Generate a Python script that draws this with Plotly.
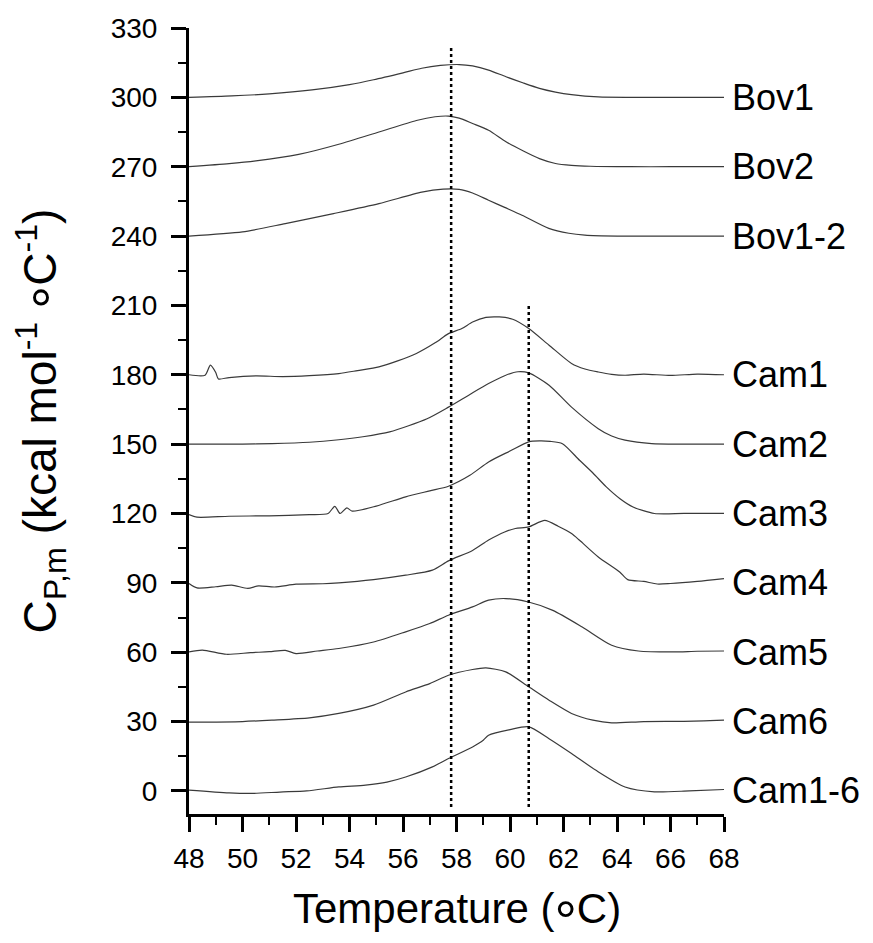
import plotly.graph_objects as go

# ---- data ----
bov1_T = [48, 49.6, 51, 52.6, 54, 54.9, 56, 56.7, 57.4, 58.1, 58.6, 59.2, 59.85, 60.5, 61.1, 61.7, 62.3, 63.3, 64.5, 66, 68]
bov1_v = [300, 300.6, 301.5, 303.2, 305.5, 307.6, 310.6, 312.6, 313.8, 314.2, 313.6, 311.8, 308.9, 306.2, 303.9, 302.3, 301.2, 300.2, 300, 300, 300]

bov2_T = [48, 49.5, 50.5, 52.1, 53.6, 55.1, 56.5, 57.2, 57.7, 58.1, 58.6, 59.2, 59.85, 60.5, 61.1, 61.7, 62.3, 63, 64.5, 66, 68]
bov2_v = [270, 271.3, 272.5, 275.3, 279.7, 285, 290, 291.6, 291.9, 291, 288.7, 285.8, 280.8, 276.8, 273.5, 271.4, 270.6, 270.2, 270, 270, 270]

bov12_T = [48, 50, 51.6, 53.4, 55.1, 56.7, 57.5, 58.1, 58.6, 59.2, 59.8, 60.45, 61.45, 62.2, 62.8, 64, 66, 68]
bov12_v = [240, 241.8, 245.4, 249.7, 254, 259, 260.3, 260.2, 258.6, 255.5, 252.4, 249, 243.3, 241.2, 240.4, 240, 240, 240]

cam1_T = [48, 48.6, 48.8, 49.0, 49.1, 49.5, 50.5, 51.5, 52.5, 53.6, 54.3, 55.1, 55.8, 56.5, 57.2, 57.7, 58.2, 58.6, 59.1, 59.6,
          60.1, 60.7, 61.46, 62.3, 62.8, 63.3, 63.8, 64.3, 65, 66, 67, 68]
cam1_v = [180, 179.8, 184.2, 181, 178.2, 178.8, 179.5, 179.2, 179.6, 180.5, 181.8, 183.4, 186, 189.2, 193.8, 197.8, 200, 202.8, 204.8, 205,
          204, 200, 192.8, 184.9, 182.5, 181.2, 180.2, 179.8, 180.3, 179.7, 180.3, 180]

cam2_T = [48, 50, 51.1, 52.5, 53.6, 54.5, 55.5, 56.9, 57.7, 58.5, 59.2, 59.8, 60.3, 60.7, 61.46, 62.3, 63.3, 63.8, 64.3, 65.3, 66.5, 68]
cam2_v = [150, 150, 150.2, 150.8, 151.9, 153.2, 155.3, 161, 166, 171.5, 176.2, 179.6, 181.3, 180.8, 175.5, 166, 156.7, 153.5, 151.7, 150.2, 150, 150]

cam3_T = [48, 48.3, 49.5, 51, 52.5, 53.2, 53.45, 53.65, 53.9, 54.1, 55, 56.1, 57, 57.7, 58.5, 59.2, 60, 60.7, 61.1, 61.5,
          61.96, 62.6, 63.1, 63.6, 64.1, 64.6, 65.4, 66.5, 68]
cam3_v = [119.5, 118.4, 118.8, 119, 119.5, 120, 123.1, 120, 122.4, 121, 123.2, 127.2, 129.8, 131.8, 136.5, 142.3, 147, 151, 151.4, 151.2,
          150.2, 143, 137.5, 131.5, 126.5, 122.8, 120, 120, 120]

cam4_T = [48, 48.3, 49, 49.6, 50.2, 50.6, 51.2, 52, 53, 53.6, 54.9, 56.1, 57.1, 57.7, 58.6, 59.2, 59.8, 60.2, 60.7, 61.3,
          61.8, 62.3, 62.6, 63.3, 64.1, 64.4, 65, 65.5, 66, 67, 68]
cam4_v = [89.7, 87.8, 88.3, 89, 87.6, 88.7, 88.2, 89.4, 89.6, 90, 91.4, 93.3, 95.5, 99.5, 104, 108.5, 112, 113.5, 114.2, 117,
          114.5, 111.3, 108.4, 101.2, 94.7, 91.4, 90.6, 89.5, 89.7, 90.6, 91.8]

cam5_T = [48, 48.5, 49.4, 50.3, 51, 51.6, 52, 52.8, 53.6, 54.9, 56.1, 57, 57.7, 58.6, 59.2, 59.84, 60.69, 61.6, 62.7, 63.8, 64.8, 66.1, 67, 68]
cam5_v = [60.1, 60.9, 59.1, 59.8, 60.2, 60.8, 59.4, 60.5, 61.6, 64.4, 68.8, 72.4, 76, 79.6, 82.5, 83.2, 81.7, 78.1, 70.9, 63, 60.5, 60.1, 60.4, 60.5]

cam6_T = [48, 50, 51.1, 52.5, 53.6, 54.9, 56.1, 57, 57.7, 58.6, 59.1, 59.84, 60.7, 61.46, 62.3, 63.1, 63.8, 65, 66.5, 68]
cam6_v = [29.7, 30, 30.6, 31.6, 33.5, 37.1, 42.8, 46.4, 50, 52.5, 53.2, 51.5, 45, 39.2, 33.5, 30.6, 29.4, 30, 30.1, 30.6]

cam16_T = [48, 49.5, 50.4, 51.4, 52.4, 53.6, 54.6, 55.4, 56.1, 57.1, 57.7, 58.6, 59, 59.2, 60, 60.7, 61.46, 62.3, 63.2, 64.3, 65.4, 66.7, 68]
cam16_v = [0.3, -0.9, -1.1, -0.5, 0, 1.7, 2.5, 3.8, 6, 10.4, 14, 19, 21.9, 24.1, 26.5, 27.7, 22.6, 16.2, 9, 1.7, -0.4, 0, 0.6]

series_names = ["Bov1", "Bov2", "Bov1-2", "Cam1", "Cam2", "Cam3", "Cam4", "Cam5", "Cam6", "Cam1-6"]
series_T = [bov1_T, bov2_T, bov12_T, cam1_T, cam2_T, cam3_T, cam4_T, cam5_T, cam6_T, cam16_T]
series_v = [bov1_v, bov2_v, bov12_v, cam1_v, cam2_v, cam3_v, cam4_v, cam5_v, cam6_v, cam16_v]
label_y = [300, 270, 240, 180, 150, 120, 90, 60, 30, 0]

# dotted reference lines: x position, y start, y end
ref_x = [57.8, 60.7]
ref_y0 = [-7, -7]
ref_y1 = [322, 211]

FONT = "Liberation Sans, Arial, Helvetica, sans-serif"
RING_X = '<span style="font-size:56px;baseline-shift:-17px">°</span>'
RING_Y = '<span style="font-size:58px;baseline-shift:-17px">°</span>'

fig = go.Figure()
for name, T, v in zip(series_names, series_T, series_v):
    fig.add_trace(go.Scatter(x=T, y=v, mode="lines", name=name,
                             line=dict(color="#3a3a3a", width=1.2, shape="spline", smoothing=0.7),
                             showlegend=False, hoverinfo="skip"))

for name, y in zip(series_names, label_y):
    fig.add_annotation(x=68, y=y, xref="x", yref="y", text=name, showarrow=False,
                       xanchor="left", yanchor="middle", xshift=6,
                       font=dict(family=FONT, size=36, color="black"))

for x, y0, y1 in zip(ref_x, ref_y0, ref_y1):
    fig.add_shape(type="line", x0=x, x1=x, y0=y0, y1=y1, xref="x", yref="y",
                  line=dict(color="black", width=2.5, dash="dot"))

# x-axis title placed below the tick labels
fig.add_annotation(x=0.5, y=-0.133, xref="paper", yref="paper", showarrow=False,
                   text="Temperature (" + RING_X + "C)", xanchor="center", yanchor="middle",
                   font=dict(family=FONT, size=42, color="black"))

fig.update_layout(
    width=873, height=943,
    margin=dict(l=189, r=149, t=28, b=129),
    paper_bgcolor="white", plot_bgcolor="white",
    font=dict(family=FONT, color="black"),
)
fig.update_xaxes(range=[48, 68], dtick=2, tick0=48, showgrid=False, zeroline=False, automargin=False,
                 showline=True, linewidth=3, linecolor="black",
                 ticks="outside", ticklen=15, tickwidth=3, tickcolor="black",
                 minor=dict(dtick=1, ticks="outside", ticklen=8, tickwidth=2, tickcolor="black"),
                 tickfont=dict(family=FONT, size=28, color="black"), ticklabelstandoff=2)
fig.update_yaxes(range=[-10, 330], dtick=30, tick0=0, showgrid=False, zeroline=False, automargin=False,
                 showline=True, linewidth=3, linecolor="black",
                 ticks="outside", ticklen=15, tickwidth=3, tickcolor="black",
                 minor=dict(dtick=15, ticks="outside", ticklen=8, tickwidth=2, tickcolor="black"),
                 tickfont=dict(family=FONT, size=28, color="black"), ticklabelstandoff=8,
                 title=dict(text="C<sub>P,m</sub> (kcal mol<sup>-1</sup> " + RING_Y + "C<sup>-1</sup>)",
                            font=dict(family=FONT, size=46, color="black"), standoff=40))

fig.write_html("out.html")
